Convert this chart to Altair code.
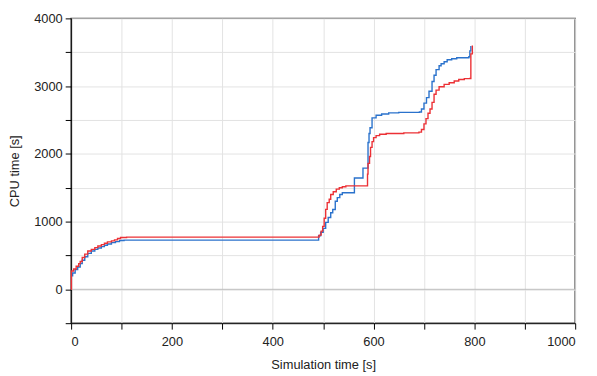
import altair as alt
import pandas as pd

# Red series (simulation time [s], CPU time [s])
red_x = [0, 0.5, 5, 10, 15, 18, 22, 27, 33, 40, 47, 53, 60, 66, 72, 80, 86, 92, 98, 110,
         489, 492, 496, 499, 502, 505, 508, 512, 515, 520, 526, 532, 538, 545,
         587, 588, 589, 592, 594, 597, 600, 605, 612, 625, 660, 690, 695, 700, 704,
         708, 712, 716, 720, 724, 730, 740, 750, 760, 769, 780, 791, 793, 796]
red_y = [0, 270, 300, 340, 380, 410, 470, 520, 565, 590, 615, 640, 660, 680, 700, 715, 730, 750, 765, 770,
         770, 800, 860, 930, 1050, 1180, 1280, 1330, 1400, 1440, 1480, 1500, 1515, 1527,
         1527, 1700, 1860, 1960, 2095, 2180, 2240, 2269, 2290, 2300, 2310, 2320, 2360, 2443, 2520,
         2600, 2662, 2760, 2880, 2940, 2990, 3025, 3050, 3075, 3098, 3110, 3113, 3476, 3600]

# Blue series
blue_x = [0, 3, 8, 13, 18, 22, 27, 33, 40, 47, 53, 60, 66, 72, 80, 88, 96, 105,
          489, 491, 495, 500, 505, 510, 515, 519, 524, 528, 533, 538,
          562, 579, 589, 591, 593, 597, 605, 616, 630, 650, 691, 695, 700, 705,
          710, 716, 720, 724, 730, 734, 740, 746, 755, 765, 789, 791, 793]
blue_y = [200, 240, 290, 330, 380, 430, 480, 530, 565, 590, 610, 630, 650, 670, 690, 705, 720, 727,
          727, 790, 843, 900, 989, 1060, 1130, 1178, 1300, 1353, 1400, 1425,
          1644, 1789, 2167, 2300, 2385, 2531, 2570, 2589, 2605, 2612, 2618, 2662, 2749, 2830,
          2924, 3069, 3160, 3244, 3300, 3331, 3360, 3389, 3405, 3418, 3433, 3520, 3593]

x_ticks = list(range(0, 1001, 100))
y_ticks = list(range(-500, 4001, 500))

df = pd.concat([
    pd.DataFrame({"t": blue_x, "cpu": blue_y, "s": "blue", "o": range(len(blue_x))}),
    pd.DataFrame({"t": red_x, "cpu": red_y, "s": "red", "o": range(len(red_x))}),
])

xscale = alt.Scale(domain=[0, 1000], nice=False, zero=False)
yscale = alt.Scale(domain=[-500, 4000], nice=False, zero=False)

base_axis = dict(domainColor="#000000", tickColor="#000000", tickSize=6, gridColor="#e3e3e3",
                 labelFont="Liberation Sans", labelFontSize=13, labelColor="#222222",
                 titleFont="Liberation Sans", titleFontSize=13, titleFontWeight="normal",
                 titleColor="#222222", format="d", labelOverlap=False)

xaxis = alt.Axis(values=x_ticks, labelExpr="datum.value % 200 == 0 ? datum.label : ''",
                 labelPadding=7, titlePadding=10, **base_axis)
yaxis = alt.Axis(values=y_ticks, labelExpr="datum.value % 1000 == 0 ? datum.label : ''",
                 labelPadding=3, titlePadding=12, **base_axis)

lines = alt.Chart(df).mark_line(interpolate="step-after", strokeWidth=1.4).encode(
    x=alt.X("t:Q", scale=xscale, title="Simulation time [s]", axis=xaxis),
    y=alt.Y("cpu:Q", scale=yscale, title="CPU time [s]", axis=yaxis),
    color=alt.Color("s:N", scale=alt.Scale(domain=["blue", "red"], range=["#2a72cc", "#ec3035"]),
                    legend=None),
    detail="s:N",
    order="o:Q",
)

zero = alt.Chart(pd.DataFrame({"cpu": [0]})).mark_rule(color="#bdbdbd", strokeWidth=1).encode(
    y=alt.Y("cpu:Q", scale=yscale, title="CPU time [s]", axis=yaxis)
)

chart = alt.layer(zero, lines).properties(
    width=511, height=309,
    autosize=alt.AutoSizeParams(type="none"),
    padding={"left": 64, "top": 8, "right": 14, "bottom": 50},
).configure_view(stroke="#404040", strokeWidth=1.5).configure_axis(grid=True)

chart.save("out.html", embed_options={"renderer": "svg", "actions": False})
